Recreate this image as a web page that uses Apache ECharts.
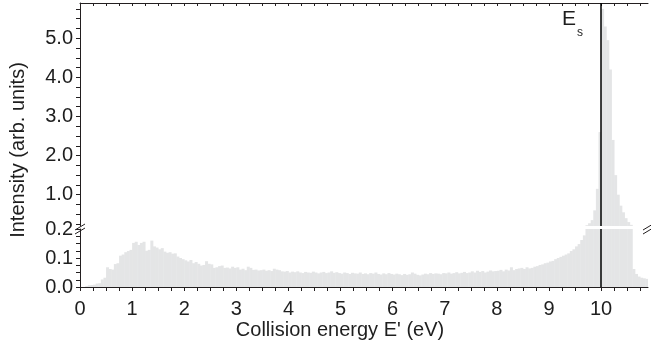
<!DOCTYPE html>
<html>
<head>
<meta charset="utf-8">
<script src="https://cdn.jsdelivr.net/npm/echarts@6/dist/echarts.min.js"></script>
<style>
  html, body { margin: 0; padding: 0; background: #fff; }
  #chart { width: 651px; height: 346px; }
</style>
</head>
<body>
<div id="chart"></div>
<script>
// histogram bins, 0.05 eV wide, starting at 0 eV
const binStart = 0;
const binWidth = 0.05;
const intensity = [
  // 0.0 - 0.5
  0, 0, 0.003, 0.006, 0.007, 0.008, 0.012, 0.013, 0.026, 0.032,
  // 0.5 - 1.0
  0.068, 0.062, 0.06, 0.079, 0.082, 0.108, 0.112, 0.12, 0.124, 0.128,
  // 1.0 - 1.5
  0.152, 0.156, 0.145, 0.152, 0.156, 0.125, 0.128, 0.16, 0.14, 0.136,
  // 1.5 - 2.0
  0.13, 0.134, 0.122, 0.118, 0.12, 0.115, 0.116, 0.105, 0.1, 0.096,
  // 2.0 - 2.5
  0.092, 0.088, 0.093, 0.082, 0.086, 0.08, 0.074, 0.076, 0.089, 0.08,
  // 2.5 - 3.0
  0.078, 0.066, 0.068, 0.072, 0.074, 0.066, 0.067, 0.064, 0.07, 0.066,
  // 3.0 - 3.5
  0.068, 0.06, 0.063, 0.058, 0.07, 0.066, 0.059, 0.06, 0.057, 0.058,
  // 3.5 - 4.0
  0.06, 0.056, 0.058, 0.055, 0.063, 0.06, 0.058, 0.054, 0.053, 0.055,
  // 4.0 - 4.5
  0.05, 0.053, 0.051, 0.054, 0.05, 0.048, 0.052, 0.05, 0.049, 0.053,
  // 4.5 - 5.0
  0.05, 0.047, 0.05, 0.052, 0.048, 0.05, 0.054, 0.049, 0.051, 0.048,
  // 5.0 - 5.5
  0.046, 0.05, 0.048, 0.045, 0.049, 0.047, 0.046, 0.05, 0.045, 0.047,
  // 5.5 - 6.0
  0.044, 0.048, 0.046, 0.05, 0.045, 0.043, 0.047, 0.044, 0.048, 0.045,
  // 6.0 - 6.5
  0.043, 0.046, 0.044, 0.041, 0.045, 0.042, 0.044, 0.05, 0.046, 0.042,
  // 6.5 - 7.0
  0.04, 0.043, 0.046, 0.044, 0.048, 0.045, 0.047, 0.046, 0.044, 0.048,
  // 7.0 - 7.5
  0.047, 0.05, 0.046, 0.048, 0.051, 0.047, 0.049, 0.052, 0.048, 0.05,
  // 7.5 - 8.0
  0.054, 0.05, 0.056, 0.052, 0.055, 0.05, 0.053, 0.057, 0.054, 0.055,
  // 8.0 - 8.5
  0.056, 0.059, 0.054, 0.06, 0.057, 0.068, 0.058, 0.062, 0.064, 0.066,
  // 8.5 - 9.0
  0.062, 0.068, 0.064, 0.066, 0.07, 0.072, 0.076, 0.078, 0.082, 0.084,
  // 9.0 - 9.5
  0.088, 0.09, 0.096, 0.1, 0.104, 0.108, 0.112, 0.116, 0.124, 0.13,
  // 9.5 - 10.0
  0.14, 0.148, 0.162, 0.178, 0.22, 0.27, 0.35, 0.6, 1.15, 2.6,
  // 10.0 - 10.5
  5.75, 5.3, 4.95, 4.2, 2.4, 1.5, 1.0, 0.72, 0.55, 0.4,
  // 10.5 - 10.9
  0.3, 0.23, 0.062, 0.045, 0.036, 0.032, 0.03, 0.028
];

const xTickLabels = [0, 1, 2, 3, 4, 5, 6, 7, 8, 9, 10];
const yLowTickLabels = [0, 0.1, 0.2];
const yHighTickLabels = [1, 2, 3, 4, 5];
const Es = 10;

const xMax = 10.9;
const breakAt = 0.2;
const yMax = 5.9;

const axisColor = '#231f20';
const textColor = '#1e1e1e';
const barColor = '#e4e5e6';
const font = '"Liberation Sans", Arial, sans-serif';

// minor tick positions, every quarter of a major step
const xMinor = [];
for (let v = 0; v <= xMax; v += 0.25) xMinor.push(v);
const yHighMinor = [];
for (let v = 0.25; v <= yMax; v += 0.25) yHighMinor.push(v);

const binData = intensity.map((v, i) => [binStart + i * binWidth, v]);

function barRenderer(low, high) {
  return function (params, api) {
    const x0 = api.value(0);
    const v = api.value(1);
    if (v <= low) return null;
    const p0 = api.coord([x0, low]);
    const p1 = api.coord([x0 + binWidth, Math.min(v, high)]);
    return {
      type: 'rect',
      shape: { x: p0[0], y: p1[1], width: p1[0] - p0[0] + 0.4, height: p0[1] - p1[1] },
      style: { fill: barColor }
    };
  };
}

const esLine = {
  silent: true,
  symbol: ['none', 'none'],
  label: { show: false },
  lineStyle: { color: '#000', width: 1.5, type: 'solid' },
  data: [{ xAxis: Es }]
};

const baseX = {
  type: 'value',
  min: 0,
  max: xMax,
  splitLine: { show: false },
  axisLine: { lineStyle: { color: axisColor, width: 1 } }
};

const chart = echarts.init(document.getElementById('chart'));
chart.setOption({
  animation: false,
  textStyle: { fontFamily: font },
  grid: [
    { left: 80, right: 3, top: 3, height: 223 },
    { left: 80, right: 3, top: 229, height: 58 }
  ],
  xAxis: [
    Object.assign({}, baseX, {
      gridIndex: 0,
      position: 'top',
      axisTick: { inside: true, length: 3, customValues: xMinor, lineStyle: { color: axisColor } },
      axisLabel: { show: false }
    }),
    Object.assign({}, baseX, {
      gridIndex: 1,
      position: 'bottom',
      axisTick: { length: 4, customValues: xMinor, lineStyle: { color: axisColor } },
      axisLabel: {
        customValues: xTickLabels,
        fontSize: 20, color: textColor, fontFamily: font, margin: 12
      }
    })
  ],
  yAxis: [
    {
      type: 'value', gridIndex: 0, min: breakAt, max: yMax,
      splitLine: { show: false },
      axisLine: { show: true, lineStyle: { color: axisColor, width: 1 } },
      axisTick: { show: true, length: 4, customValues: yHighMinor, lineStyle: { color: axisColor } },
      axisLabel: {
        customValues: yHighTickLabels,
        formatter: v => v.toFixed(1),
        fontSize: 20, color: textColor, fontFamily: font, margin: 7
      }
    },
    {
      type: 'value', gridIndex: 1, min: 0, max: breakAt, interval: 0.1,
      splitLine: { show: false },
      axisLine: { show: true, lineStyle: { color: axisColor, width: 1 } },
      axisTick: { show: true, length: 4, lineStyle: { color: axisColor } },
      minorTick: { show: true, splitNumber: 4, length: 4, lineStyle: { color: axisColor } },
      axisLabel: {
        formatter: v => v.toFixed(1),
        fontSize: 20, color: textColor, fontFamily: font, margin: 7
      }
    }
  ],
  series: [
    {
      type: 'custom', xAxisIndex: 0, yAxisIndex: 0,
      renderItem: barRenderer(breakAt, yMax),
      encode: { x: 0, y: 1 },
      data: binData,
      clip: true,
      markLine: esLine
    },
    {
      type: 'custom', xAxisIndex: 1, yAxisIndex: 1,
      renderItem: barRenderer(0, breakAt),
      encode: { x: 0, y: 1 },
      data: binData,
      clip: true,
      markLine: esLine
    }
  ],
  graphic: [
    {
      type: 'text', x: 18, y: 150, rotation: Math.PI / 2,
      style: {
        text: 'Intensity (arb. units)', fontSize: 20, fontFamily: font,
        fill: textColor, align: 'center', verticalAlign: 'middle'
      }
    },
    {
      type: 'text', x: 340, y: 330,
      style: {
        text: "Collision energy E' (eV)", fontSize: 20, fontFamily: font,
        fill: textColor, align: 'center', verticalAlign: 'middle'
      }
    },
    {
      type: 'text', x: 562, y: 9,
      style: { text: 'E', fontSize: 21, fontFamily: font, fill: textColor }
    },
    {
      type: 'text', x: 577, y: 27,
      style: { text: 's', fontSize: 12, fontFamily: font, fill: textColor }
    },
    // axis break marks
    {
      type: 'polygon', shape: { points: [[75, 230], [85, 224], [85, 228], [75, 234]] },
      style: { fill: '#fff' }
    },
    { type: 'line', shape: { x1: 75, y1: 230, x2: 85, y2: 224 }, style: { stroke: axisColor, lineWidth: 1 } },
    { type: 'line', shape: { x1: 75, y1: 234, x2: 85, y2: 228 }, style: { stroke: axisColor, lineWidth: 1 } },
    {
      type: 'polygon', shape: { points: [[643, 230], [653, 224], [653, 228], [643, 234]] },
      style: { fill: '#fff' }
    },
    { type: 'line', shape: { x1: 643, y1: 230, x2: 653, y2: 224 }, style: { stroke: axisColor, lineWidth: 1 } },
    { type: 'line', shape: { x1: 643, y1: 234, x2: 653, y2: 228 }, style: { stroke: axisColor, lineWidth: 1 } }
  ]
});
</script>
</body>
</html>
